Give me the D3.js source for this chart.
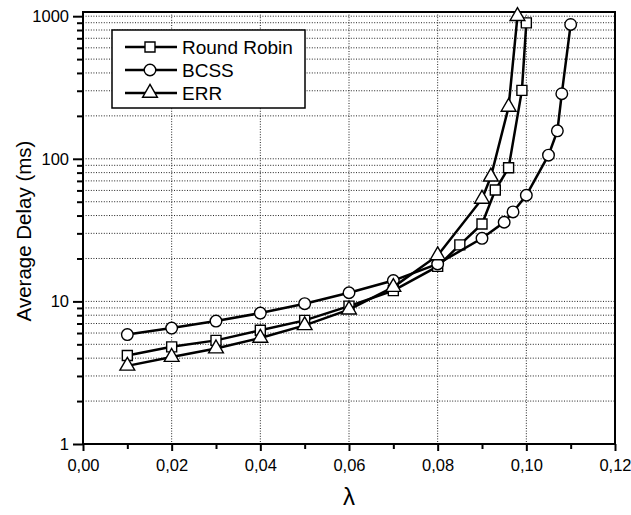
<!DOCTYPE html>
<html>
<head>
<meta charset="utf-8">
<script src="https://cdn.jsdelivr.net/npm/d3@7"></script>
<style>
  body { margin: 0; background: #fff; }
  text { font-family: "Liberation Sans", Arial, sans-serif; fill: #000; }
</style>
</head>
<body>
<div id="chart"></div>
<script>
// values
var rrLambda = [0.01, 0.02, 0.03, 0.04, 0.05, 0.06, 0.07, 0.08, 0.085, 0.09, 0.093, 0.096, 0.099, 0.100]
var rrDelay  = [4.17, 4.8, 5.33, 6.27, 7.36, 9.27, 11.9, 17.6, 24.9, 34.9, 60.4, 86.5, 302, 898]

var bcssLambda = [0.01, 0.02, 0.03, 0.04, 0.05, 0.06, 0.07, 0.08, 0.09, 0.095, 0.097, 0.100, 0.105, 0.107, 0.108, 0.110]
var bcssDelay  = [5.85, 6.5, 7.28, 8.28, 9.64, 11.5, 14.0, 18.3, 27.7, 35.9, 42.4, 55.5, 106, 157, 286, 875]

var errLambda = [0.01, 0.02, 0.03, 0.04, 0.05, 0.06, 0.07, 0.08, 0.09, 0.092, 0.096, 0.098]
var errDelay  = [3.53, 4.07, 4.67, 5.54, 6.79, 8.75, 12.6, 21.0, 52.3, 74.8, 231, 1000]

var seriesNames = ["Round Robin", "BCSS", "ERR"]
var xTickValues = [0, 0.02, 0.04, 0.06, 0.08, 0.10, 0.12]
var yTickValues = [1, 10, 100, 1000]

var margin = { top: 12, right: 16, bottom: 71, left: 83 }
var width = 631 - margin.left - margin.right,
    height = 515 - margin.top - margin.bottom

var svg = d3.select("#chart").append("svg")
    .attr("width", width + margin.left + margin.right)
    .attr("height", height + margin.top + margin.bottom)
    .append("g")
    .attr("transform", "translate(" + margin.left + "," + margin.top + ")")

var xPositionScale = d3.scaleLinear().domain([0, 0.12]).range([0, width])
var yPositionScale = d3.scaleLog().domain([1, 1070]).range([height, 0])

// dotted grid
var minorY = []
for (var dec = 1; dec < 1000; dec *= 10) {
  for (var k = 1; k < 10; k++) minorY.push(dec * k)
}
minorY.push(1000)

svg.append("g").selectAll("line")
  .data(minorY.filter(function (v) { return v > 1 }))
  .enter().append("line")
  .attr("x1", 0).attr("x2", width)
  .attr("y1", function (d) { return yPositionScale(d) })
  .attr("y2", function (d) { return yPositionScale(d) })
  .attr("stroke", "#222").attr("stroke-width", 1)
  .attr("stroke-dasharray", "1,1.6")

svg.append("g").selectAll("line")
  .data(xTickValues.slice(1, -1))
  .enter().append("line")
  .attr("y1", 0).attr("y2", height)
  .attr("x1", function (d) { return xPositionScale(d) })
  .attr("x2", function (d) { return xPositionScale(d) })
  .attr("stroke", "#222").attr("stroke-width", 1)
  .attr("stroke-dasharray", "1,1.6")

// frame
svg.append("rect")
  .attr("x", 0).attr("y", 0)
  .attr("width", width).attr("height", height)
  .attr("fill", "none").attr("stroke", "#000").attr("stroke-width", 2)

// axes
var xAxis = d3.axisBottom(xPositionScale)
  .tickValues(xTickValues)
  .tickSize(7)
  .tickFormat(function (d) { return d3.format(".2f")(d).replace(".", ",") })
var gx = svg.append("g").attr("class", "axis x-axis")
  .attr("transform", "translate(0," + height + ")")
  .call(xAxis)

var xMinor = d3.axisBottom(xPositionScale)
  .tickValues(d3.range(0.01, 0.12, 0.02))
  .tickSize(5).tickFormat("")
svg.append("g").attr("transform", "translate(0," + height + ")").call(xMinor)

var yAxis = d3.axisLeft(yPositionScale)
  .tickValues(yTickValues)
  .tickSize(10)
  .tickPadding(4)
  .tickFormat(d3.format("d"))
var gy = svg.append("g").attr("class", "axis y-axis").call(yAxis)

var yMinor = d3.axisLeft(yPositionScale)
  .tickValues(minorY.filter(function (v) { return yTickValues.indexOf(v) < 0 }))
  .tickSize(6).tickFormat("")
svg.append("g").call(yMinor)

svg.selectAll(".domain").remove()
svg.selectAll(".tick line").attr("stroke", "#000").attr("stroke-width", 2)
gx.selectAll("text").attr("font-size", 16.5).attr("dy", "1.05em")
gy.selectAll("text").attr("font-size", 16.5)

svg.append("text")
  .attr("x", width / 2).attr("y", height + 61)
  .attr("text-anchor", "middle").attr("font-size", 24)
  .text("λ")

svg.append("text")
  .attr("transform", "translate(-52," + (height / 2 + 3) + ") rotate(-90)")
  .attr("text-anchor", "middle").attr("font-size", 20.5)
  .text("Average Delay (ms)")

// series
var series = [
  { name: seriesNames[0], xs: rrLambda, ys: rrDelay, shape: d3.symbolSquare, size: 100 },
  { name: seriesNames[1], xs: bcssLambda, ys: bcssDelay, shape: d3.symbolCircle, size: 105 },
  { name: seriesNames[2], xs: errLambda, ys: errDelay, shape: d3.symbolTriangle, size: 95 }
]

var line = d3.line()
  .x(function (d) { return xPositionScale(d[0]) })
  .y(function (d) { return yPositionScale(d[1]) })

series.forEach(function (s) {
  var pts = s.xs.map(function (x, i) { return [x, s.ys[i]] })
  var g = svg.append("g")
  g.append("path")
    .datum(pts)
    .attr("d", line)
    .attr("fill", "none").attr("stroke", "#000").attr("stroke-width", 2.5)
  g.selectAll("path.mark")
    .data(pts)
    .enter().append("path")
    .attr("class", "mark")
    .attr("d", d3.symbol().type(s.shape).size(s.size))
    .attr("transform", function (d) {
      return "translate(" + xPositionScale(d[0]) + "," + yPositionScale(d[1]) + ")"
    })
    .attr("fill", "#fff").attr("stroke", "#000").attr("stroke-width", 1.4)
})

// legend
var legend = svg.append("g").attr("transform", "translate(29,18)")
legend.append("rect")
  .attr("x", 0).attr("y", 0).attr("width", 193).attr("height", 78)
  .attr("fill", "#fff").attr("stroke", "#000").attr("stroke-width", 1.5)

series.forEach(function (s, i) {
  var row = legend.append("g").attr("transform", "translate(0," + (17 + i * 23) + ")")
  row.append("line")
    .attr("x1", 13).attr("x2", 65).attr("y1", 0).attr("y2", 0)
    .attr("stroke", "#000").attr("stroke-width", 2.5)
  row.append("path")
    .attr("d", d3.symbol().type(s.shape).size(s.size))
    .attr("transform", "translate(38,0)")
    .attr("fill", "#fff").attr("stroke", "#000").attr("stroke-width", 1.4)
  row.append("text")
    .attr("x", 70).attr("y", 0).attr("dy", "0.36em")
    .attr("font-size", 19)
    .text(s.name)
})
</script>
</body>
</html>
